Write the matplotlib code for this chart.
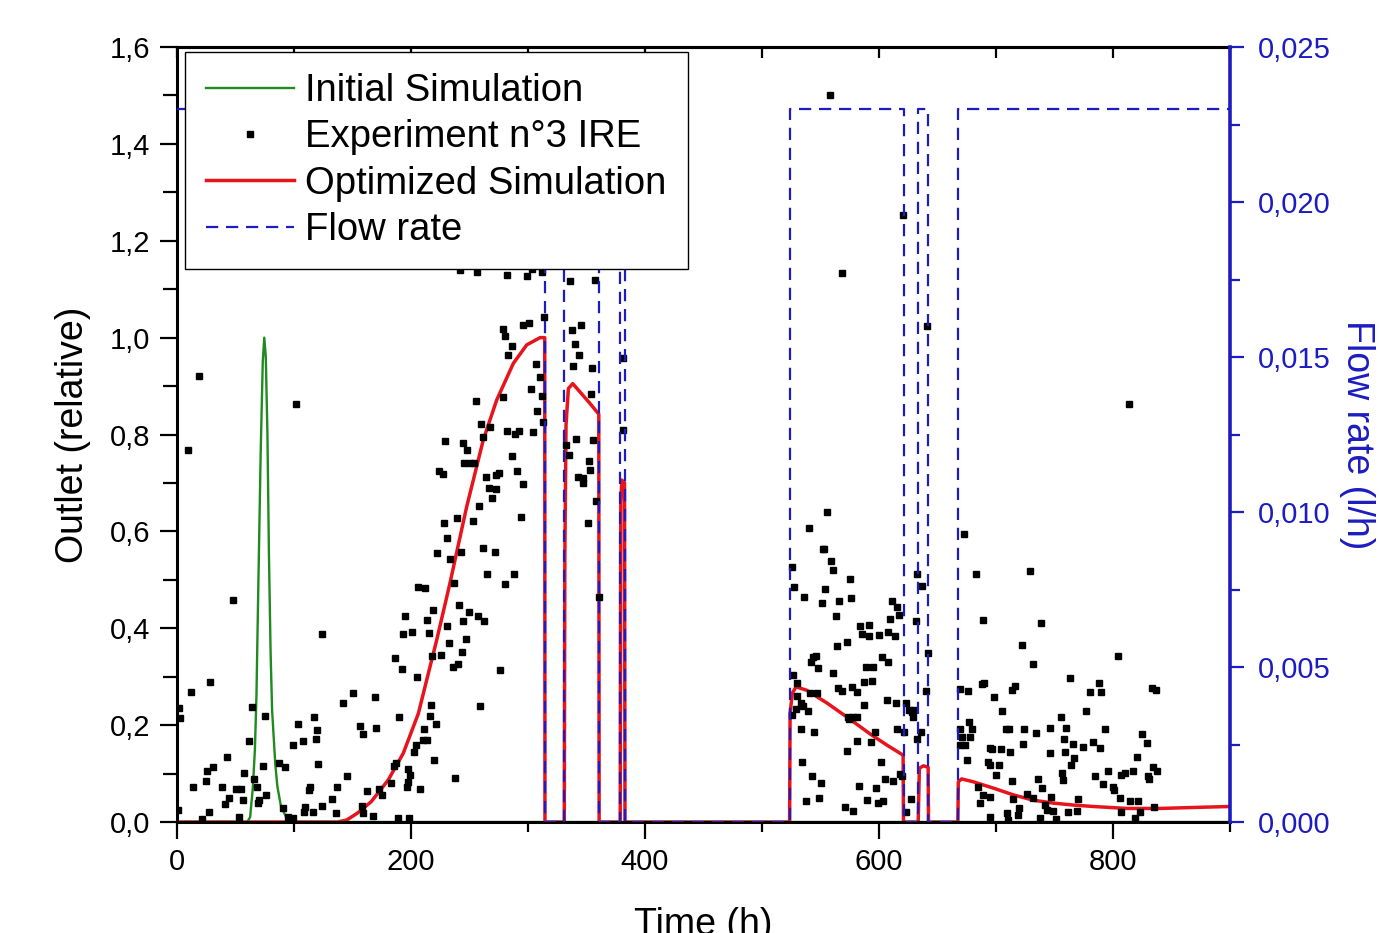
import matplotlib
matplotlib.use("Agg")
import matplotlib.pyplot as plt
from matplotlib.ticker import MultipleLocator, FuncFormatter

plt.rcParams["font.family"] = ["Liberation Sans", "DejaVu Sans"]

# ---------------- DATA ----------------

# Initial simulation (green)
init_t = [0, 60, 62.5, 64.8, 66.6, 67.9, 69.6, 71.5, 73.3, 74.6, 75.9, 77.3, 78.6,
          80.0, 81.3, 84.0, 85.8, 88.9, 93.7, 100, 900]
init_v = [0, 0, 0.01, 0.07, 0.15, 0.26, 0.5, 0.76, 0.95, 1.0, 0.96, 0.8, 0.55,
          0.35, 0.23, 0.12, 0.073, 0.032, 0.008, 0, 0]

# Optimized simulation (red)
opt_t = [0, 137, 145, 154, 166, 180.6, 193.4, 206.3, 213.4, 222, 233, 247.6, 261.8,
         273.2, 287.5, 298.9, 310.3, 314.3, 314.5,
         331, 331.5, 332.5, 334.5, 338.2, 344.4, 353, 360.5, 360.8,
         378.8, 379.3, 380.2, 382.5, 382.9,
         523.6, 524, 525.9, 529.1, 538.2, 555.3, 572.4, 592.3, 606.6, 620.6, 620.9,
         633.5, 634.5, 637.9, 642, 642.3,
         667.4, 667.8, 670.6, 680.6, 697.7, 714.8, 731.9, 749, 766.1, 783.2, 811.7,
         840.2, 868.6, 900]
opt_v = [0, 0, 0.004, 0.018, 0.042, 0.087, 0.142, 0.224, 0.293, 0.376, 0.49, 0.651, 0.789,
         0.871, 0.947, 0.985, 1.0, 1.0, 0,
         0, 0.55, 0.82, 0.895, 0.905, 0.888, 0.864, 0.842, 0,
         0, 0.66, 0.706, 0.70, 0,
         0, 0.224, 0.266, 0.279, 0.272, 0.246, 0.217, 0.182, 0.159, 0.138, 0,
         0, 0.111, 0.116, 0.113, 0,
         0, 0.083, 0.089, 0.083, 0.07, 0.056, 0.045, 0.039, 0.035, 0.032, 0.028,
         0.028, 0.030, 0.032]

# Flow rate (blue dashed, right axis) - value from each time onward
flow_t = [0, 314.5, 330.8, 360.7, 378.6, 383, 523.9, 621, 633.3, 641.9, 667.5, 900]
flow_q = [0.023, 0, 0.023, 0, 0.023, 0, 0.023, 0, 0.023, 0, 0.023, 0.023]

# Experiment n°3 IRE
exp_t = [47.6, 11.7, 28.2, 2.0, 2.6, 63.8, 75.2, 61.8, 42.5, 25.9, 30.5, 24.8, 13.4, 38.2,
         50.1, 54.7, 57.3, 44.2, 41.3, 56.1, 27.6, 21.1, 53.3, 1.1, 66, 68, 70.4, 69.2,
         73.2, 76, 87.5, 92.3, 90.9, 95, 98.9, 124.2, 99.4, 103.2, 108, 117.4, 119.4,
         118.8, 120.8, 113.7, 113.1, 109.4, 108.8, 116.5, 123.7, 132.2, 136.5, 135.9,
         142.2, 150.2, 145, 156.4, 159.2, 169.2, 170.1, 162.1, 157.9, 159.3, 167.8, 172.9,
         175, 186.3, 192, 194.9, 192.9, 201.1, 206.3, 211.9, 219.1, 213.4, 215.1, 204.8,
         190, 187.2, 185.5, 182.9, 196.3, 197.4, 199.1, 197.7, 207.7, 202.8, 204.3, 211.1,
         213.4, 210.5, 216.2, 217.1, 221.1, 219.9, 218.2, 225.4, 231, 232.2, 241.3, 244.2,
         246.9, 243.3, 240.2, 236.2, 249.3, 257, 262.7, 259, 275.8, 237.6, 189.2, 198.6,
         280.6, 237,
         256.1, 291.9, 298.9, 303.2, 312.3, 314, 296, 300.9, 278.9, 280, 286, 283.2, 306.8,
         310.3, 302.3, 311.7, 278.3, 255.3, 308, 312.6, 259.8, 267.5, 261.3, 281.8, 288.9,
         292.6, 304, 229.1, 244.7, 248.1, 245.6, 250.4, 254.1, 286.7, 224.2, 227.1, 264.1,
         272.6, 275.2, 290.8, 295.5, 267, 272.9, 269.5, 258.1, 228.2, 239, 253.3, 230.5,
         222.5, 242.5, 233.3, 261.8, 271.5, 294.3, 265.2, 288,
         335.9, 357.3, 337.3, 345.3, 340.2, 343.9, 338.8, 354.9, 353.6, 332.1, 334.8, 341,
         355.8, 352.4, 353, 343, 347.3, 346.8, 358.1, 351.3, 381.5, 380.9, 360.5,
         241.9, 276, 281.8, 19.1, 9.1, 101.7,
         558.1, 568.6, 620.8, 641.3, 814,
         555.3, 540.2, 552.1, 553.3, 559, 560.4, 525.9, 527.6, 536.2, 553.8, 551, 566.1,
         563.2, 575.2, 575.8, 583.8, 591.7, 591.7, 585.2, 599.8, 607.9, 613.7, 610.8, 615.1,
         617.4, 609.4, 564.4, 572.9, 543.9, 546.2, 548.1, 541.9, 560.4, 588.6, 594.6, 587.5,
         594.3, 602.3, 607.4, 526.8, 529.6, 530.2, 533.1, 535.3, 539.6, 525.9, 529.1, 533.1,
         544.7, 541, 546.7, 564.7, 568.6, 576.6, 580.9, 577.5, 580.9, 573.2, 574.6, 587.5,
         581.5, 593.2, 572.4, 596.8, 606.6, 614.5, 615.1, 533.9, 543, 550.2, 549, 537.3,
         583.2, 590, 597.4, 599.4, 603.2, 570.9, 578.1, 601.4, 605.4, 611.7, 617.9, 619.3,
         623.1, 626, 628, 630, 628.8, 632.2, 637, 631.4, 641.6, 639.9, 621.6, 632.2, 635.6,
         627.4, 622.8,
         672.9, 682.9, 689.2, 669.2, 676.3, 687.8, 689.7, 669.2, 670.6, 679.2, 677.2, 677.8,
         669.2, 673.5, 675, 684.9, 688.6, 686.3, 694.9, 698.3, 705.4, 708.5, 711.4, 694.9,
         696.8, 704, 711.9, 693.4, 694.9, 702.8, 700, 694.9, 709.1, 710.5, 719.9, 718.5,
         713.4, 716.2, 721.9, 731.3, 729.1, 738.2, 724.2, 734.2, 723.4, 714, 714.8, 726.2,
         731.9, 736.2, 739, 741.9, 743.3, 748.4, 751.3, 737.6, 746.2, 755.3, 759.8, 746.2,
         747, 756.2, 757.1, 758.1, 765.5, 759, 766.9, 764.1, 763.2, 776.9, 770.4, 769,
         761.8, 774.6, 782.6, 780.3, 788.3, 789.5, 793.2, 788.9, 784.6, 791.7, 796, 800.3,
         801.1, 804.6, 806.8, 810.3, 816.8, 806, 806.6, 814.5, 821.6, 824.5, 828.8, 820.8,
         830.2, 831, 834.5, 837.3, 833, 836.8, 835.3, 823.1, 818.8]
exp_v = [0.458, 0.268, 0.29, 0.236, 0.215, 0.238, 0.219, 0.168, 0.134, 0.106, 0.114, 0.084,
         0.072, 0.073, 0.068, 0.068, 0.102, 0.05, 0.037, 0.045, 0.02, 0.007, 0.011, 0.025,
         0.088, 0.072, 0.045, 0.039, 0.116, 0.056, 0.121, 0.114, 0.028, 0.01, 0.008, 0.388,
         0.159, 0.203, 0.168, 0.216, 0.189, 0.172, 0.12, 0.073, 0.066, 0.032, 0.02, 0.02,
         0.034, 0.047, 0.073, 0.019, 0.246, 0.267, 0.096, 0.198, 0.182, 0.259, 0.195, 0.064,
         0.034, 0.019, 0.013, 0.068, 0.056, 0.339, 0.316, 0.425, 0.388, 0.392, 0.485, 0.483,
         0.438, 0.417, 0.39, 0.299, 0.217, 0.121, 0.116, 0.081, 0.072, 0.083, 0.098, 0.11,
         0.069, 0.144, 0.16, 0.192, 0.17, 0.17, 0.219, 0.241, 0.202, 0.127, 0.343, 0.344,
         0.405, 0.37, 0.448, 0.416, 0.378, 0.35, 0.326, 0.319, 0.433, 0.426, 0.415, 0.239,
         0.314, 0.091, 0.009, 0.009, 0.491, 0.493,
         1.136, 1.152, 1.128, 1.141, 1.135, 1.043, 1.027, 1.03, 1.018, 1.004, 0.983, 0.964,
         0.945, 0.919, 0.893, 0.88, 0.877, 0.869, 0.848, 0.826, 0.821, 0.816, 0.795, 0.808,
         0.802, 0.808, 0.805, 0.787, 0.782, 0.768, 0.742, 0.742, 0.742, 0.756, 0.725, 0.718,
         0.712, 0.716, 0.721, 0.725, 0.698, 0.689, 0.687, 0.668, 0.653, 0.617, 0.627, 0.622,
         0.586, 0.555, 0.557, 0.542, 0.565, 0.557, 0.63, 0.511, 0.512,
         1.117, 1.12, 1.015, 1.026, 0.986, 0.964, 0.942, 0.938, 0.883, 0.778, 0.758, 0.791,
         0.789, 0.745, 0.727, 0.713, 0.71, 0.7, 0.663, 0.617, 0.957, 0.809, 0.465,
         1.14, 1.153, 1.129, 0.921, 0.768, 0.864,
         1.501, 1.134, 1.253, 1.025, 0.864,
         0.639, 0.606, 0.564, 0.564, 0.539, 0.52, 0.526, 0.485, 0.465, 0.482, 0.452, 0.456,
         0.425, 0.501, 0.463, 0.405, 0.407, 0.383, 0.388, 0.387, 0.393, 0.384, 0.456, 0.444,
         0.427, 0.42, 0.364, 0.371, 0.341, 0.343, 0.317, 0.331, 0.307, 0.321, 0.321, 0.29,
         0.291, 0.341, 0.331, 0.303, 0.288, 0.26, 0.246, 0.239, 0.229, 0.221, 0.233, 0.191,
         0.185, 0.266, 0.267, 0.276, 0.27, 0.279, 0.269, 0.217, 0.217, 0.217, 0.212, 0.242,
         0.168, 0.166, 0.147, 0.185, 0.252, 0.245, 0.193, 0.124, 0.095, 0.08, 0.049, 0.044,
         0.074, 0.045, 0.07, 0.039, 0.044, 0.03, 0.023, 0.124, 0.089, 0.085, 0.1, 0.094,
         0.246, 0.231, 0.228, 0.231, 0.217, 0.512, 0.487, 0.415, 0.348, 0.27, 0.185, 0.171,
         0.186, 0.047, 0.021,
         0.595, 0.512, 0.418, 0.274, 0.271, 0.285, 0.286, 0.193, 0.176, 0.193, 0.207, 0.176,
         0.16, 0.159, 0.128, 0.073, 0.056, 0.039, 0.052, 0.259, 0.229, 0.193, 0.193, 0.152,
         0.15, 0.15, 0.145, 0.124, 0.118, 0.118, 0.097, 0.01, 0.019, 0.004, 0.028, 0.014,
         0.273, 0.281, 0.365, 0.326, 0.519, 0.411, 0.193, 0.183, 0.162, 0.085, 0.047, 0.058,
         0.049, 0.088, 0.07, 0.035, 0.025, 0.023, 0.006, 0.008, 0.195, 0.216, 0.194, 0.143,
         0.052, 0.102, 0.087, 0.171, 0.162, 0.145, 0.133, 0.118, 0.298, 0.229, 0.047, 0.023,
         0.021, 0.155, 0.166, 0.269, 0.288, 0.268, 0.191, 0.152, 0.095, 0.078, 0.106, 0.073,
         0.066, 0.343, 0.097, 0.102, 0.106, 0.049, 0.021, 0.044, 0.044, 0.181, 0.164, 0.134,
         0.094, 0.089, 0.114, 0.106, 0.276, 0.273, 0.032, 0.021, 0.008]

x_ticks = [0, 200, 400, 600, 800]

# ---------------- PLOT ----------------

blue = "#1c1cc0"
fig = plt.figure(figsize=(13.79, 9.33), dpi=100)
ax = fig.add_axes([0.12835, 0.11897, 0.76361, 0.83065])

l_opt, = ax.plot(opt_t, opt_v, color="#e8141c", lw=2.5, label="Optimized Simulation", zorder=2)
l_init, = ax.plot(init_t, init_v, color="#1f8a1f", lw=1.7, label="Initial Simulation", zorder=2.2)
l_exp, = ax.plot(exp_t, exp_v, "s", color="black", ms=4.9, ls="none",
                 label="Experiment n°3 IRE", zorder=2.5)

ax.set_xlim(0, 900)
ax.set_ylim(0, 1.6)
ax.set_xticks(x_ticks)
ax.xaxis.set_minor_locator(MultipleLocator(100))
ax.yaxis.set_major_locator(MultipleLocator(0.2))
ax.yaxis.set_minor_locator(MultipleLocator(0.1))
ax.yaxis.set_major_formatter(FuncFormatter(lambda v, p: f"{v:.1f}".replace(".", ",")))

ax.tick_params(axis="both", which="major", direction="out", length=12, width=1.6,
               labelsize=21, pad=7)
ax.tick_params(axis="both", which="minor", direction="out", length=7, width=1.6)
ax.tick_params(axis="y", which="minor", length=10)
for s in ["left", "top", "bottom"]:
    ax.spines[s].set_linewidth(2.2)
ax.spines["right"].set_visible(False)

ax.set_xlabel("Time (h)", fontsize=27, labelpad=22)
ax.set_ylabel("Outlet (relative)", fontsize=27, labelpad=14)

top = ax.secondary_xaxis("top")
top.set_xticks(list(range(0, 901, 100)))
top.tick_params(direction="in", length=8, width=1.6, labeltop=False)
top.spines["top"].set_linewidth(2.2)

ax2 = ax.twinx()
l_flow, = ax2.plot(flow_t, flow_q, drawstyle="steps-post", color=blue, lw=1.6,
                   ls=(0, (5.5, 3.5)), label="Flow rate")
ax2.set_ylim(0, 0.025)
ax2.yaxis.set_major_locator(MultipleLocator(0.005))
ax2.yaxis.set_minor_locator(MultipleLocator(0.0025))
ax2.yaxis.set_major_formatter(FuncFormatter(lambda v, p: f"{v:.3f}".replace(".", ",")))
ax2.tick_params(axis="y", which="major", direction="out", length=10, width=1.6,
                colors=blue, labelsize=21, pad=10)
ax2.tick_params(axis="y", which="minor", direction="out", length=7, width=1.6, colors=blue)
for s in ["left", "top", "bottom"]:
    ax2.spines[s].set_visible(False)
ax2.spines["right"].set_color(blue)
ax2.spines["right"].set_linewidth(2.6)
ax2.set_ylabel("Flow rate (l/h)", fontsize=27, color=blue, rotation=270, labelpad=32)

leg = ax2.legend(handles=[l_init, l_exp, l_opt, l_flow], loc="upper left",
                 bbox_to_anchor=(0.0076, 0.9935), borderaxespad=0, fontsize=27.5,
                 fancybox=False, framealpha=1, edgecolor="black", handlelength=2.3,
                 handletextpad=0.3, labelspacing=0.27, borderpad=0.55)
leg.get_frame().set_linewidth(1.0)

fig.savefig("out.png", dpi=100)
